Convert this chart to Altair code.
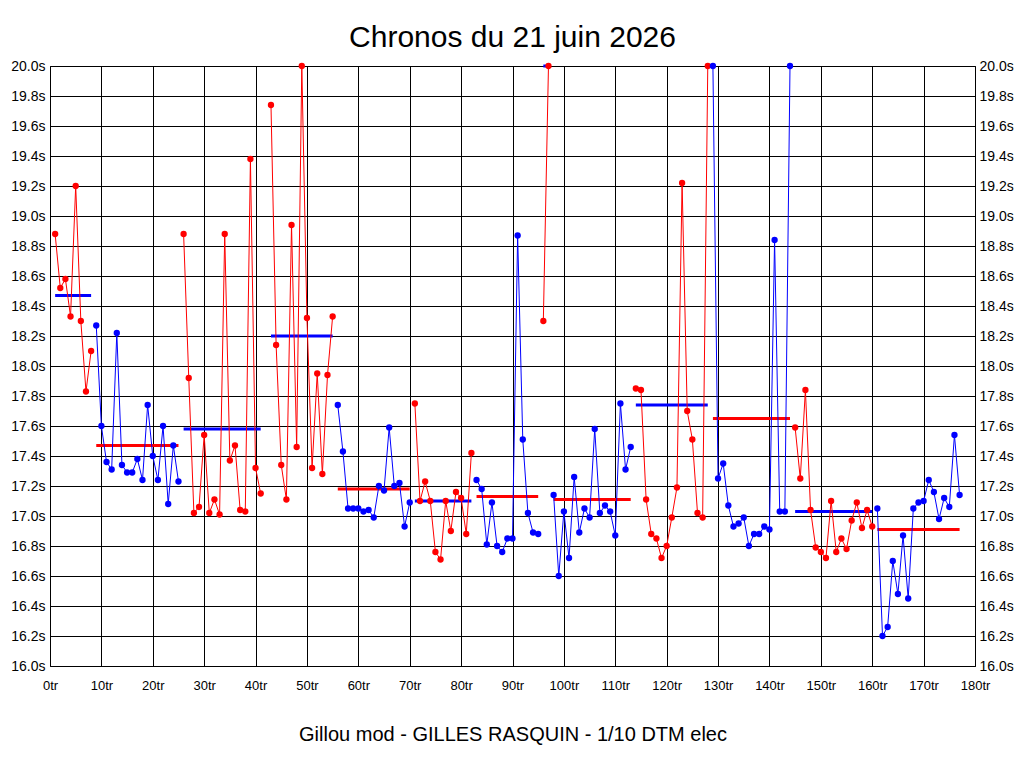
import altair as alt
import pandas as pd

# ---- data ----
stint_first_lap = [1, 9, 26, 43, 56, 71, 83, 96, 98, 114, 129, 145, 161]
stint_color = ["red", "blue", "red", "red", "blue", "red", "blue",
               "red", "blue", "red", "blue", "red", "blue"]
mean_color = ["blue", "red", "blue", "blue", "red", "blue", "red",
              "blue", "red", "blue", "red", "blue", "red"]
stint_mean = [18.47, 17.47, 17.58, 18.20, 17.18, 17.10, 17.13,
              20.00, 17.11, 17.74, 17.65, 17.03, 16.91]

t1 = [18.88, 18.52, 18.58, 18.33, 19.20, 18.30, 17.83, 18.10]
t2 = [18.27, 17.60, 17.36, 17.31, 18.22, 17.34, 17.29, 17.29, 17.38, 17.24,
      17.74, 17.40, 17.24, 17.60, 17.08, 17.47, 17.23]
t3 = [18.88, 17.92, 17.02, 17.06, 17.54, 17.02, 17.11, 17.01, 18.88, 17.37,
      17.47, 17.04, 17.03, 19.38, 17.32, 17.15]
t4 = [19.74, 18.14, 17.34, 17.11, 18.94, 17.46, 20.00, 18.32, 17.32, 17.95,
      17.28, 17.94, 18.33]
t5 = [17.74, 17.43, 17.05, 17.05, 17.05, 17.03, 17.04, 16.99, 17.20, 17.17,
      17.59, 17.20, 17.22, 16.93, 17.09]
t6 = [17.75, 17.10, 17.23, 17.10, 16.76, 16.71, 17.10, 16.90, 17.16, 17.12,
      16.88, 17.42]
t7 = [17.24, 17.18, 16.81, 17.09, 16.80, 16.76, 16.85, 16.85, 18.87, 17.51,
      17.02, 16.89, 16.88]
t8 = [18.30, 20.00]
t9 = [17.14, 16.60, 17.03, 16.72, 17.26, 16.89, 17.05, 16.99, 17.58, 17.02,
      17.07, 17.03, 16.87, 17.75, 17.31, 17.46]
t10 = [17.85, 17.84, 17.11, 16.88, 16.85, 16.72, 16.80, 16.99, 17.19, 19.22,
       17.70, 17.51, 17.02, 16.99, 20.00]
t11 = [20.00, 17.25, 17.35, 17.07, 16.93, 16.95, 16.99, 16.80, 16.88, 16.88,
       16.93, 16.91, 18.84, 17.03, 17.03, 20.00]
t12 = [17.59, 17.25, 17.84, 17.04, 16.79, 16.76, 16.72, 17.10, 16.76, 16.85,
       16.78, 16.97, 17.09, 16.92, 17.04, 16.93]
t13 = [17.05, 16.20, 16.26, 16.70, 16.48, 16.87, 16.45, 17.05, 17.09, 17.10,
       17.24, 17.16, 16.98, 17.12, 17.06, 17.54, 17.14]
stint_times = [t1, t2, t3, t4, t5, t6, t7, t8, t9, t10, t11, t12, t13]

x_ticks = [0, 10, 20, 30, 40, 50, 60, 70, 80, 90, 100, 110, 120, 130, 140,
           150, 160, 170, 180]
y_ticks = [16.0, 16.2, 16.4, 16.6, 16.8, 17.0, 17.2, 17.4, 17.6, 17.8, 18.0,
           18.2, 18.4, 18.6, 18.8, 19.0, 19.2, 19.4, 19.6, 19.8, 20.0]

title_text = "Chronos du 21 juin 2026"
footer_text = "Gillou mod - GILLES RASQUIN - 1/10 DTM elec"

# ---- tables ----
rows = []
mrows = []
for i, (first, times) in enumerate(zip(stint_first_lap, stint_times)):
    for j, v in enumerate(times):
        rows.append({"lap": first + j, "time": v, "stint": i, "color": stint_color[i]})
    mrows.append({"start": first, "end": first + len(times) - 1,
                  "mean": stint_mean[i], "color": mean_color[i]})
df = pd.DataFrame(rows)
mdf = pd.DataFrame(mrows)

FONT = "Liberation Sans"
xscale = alt.Scale(domain=[0, 180], nice=False, zero=False)
yscale = alt.Scale(domain=[16, 20], nice=False, zero=False)

x_axis = alt.Axis(values=x_ticks, labelExpr="datum.value + 'tr'", grid=True,
                  gridColor="black", gridOpacity=1, gridWidth=1, ticks=False,
                  tickSize=0, domain=False, labelFont=FONT, labelFontSize=13,
                  labelColor="black", labelPadding=23, labelBaseline="alphabetic",
                  labelFlush=False, labelOverlap=False,
                  title=footer_text, titleFont=FONT, titleFontSize=20,
                  titleFontWeight="normal", titleColor="black", titleY=74,
                  titleBaseline="alphabetic")
yl_axis = alt.Axis(values=y_ticks, labelExpr="format(datum.value, '.1f') + 's'",
                   grid=True, gridColor="black", gridOpacity=1, gridWidth=1,
                   ticks=False, tickSize=0, domain=False, labelFont=FONT,
                   labelFontSize=14, labelColor="black", labelPadding=5,
                   labelFlush=False, labelOverlap=False, title=None, orient="left")
yr_axis = alt.Axis(values=y_ticks, labelExpr="format(datum.value, '.1f') + 's'",
                   grid=False, ticks=False, tickSize=0, domain=False,
                   labelFont=FONT, labelFontSize=14, labelColor="black",
                   labelPadding=4, labelFlush=False, labelOverlap=False,
                   title=None, orient="right")

means = alt.Chart(mdf).mark_rule(strokeWidth=3).encode(
    x=alt.X("start:Q", scale=xscale, axis=x_axis),
    x2="end:Q",
    y=alt.Y("mean:Q", scale=yscale, axis=yl_axis),
    color=alt.Color("color:N", scale=None),
)
lines = alt.Chart(df).mark_line(strokeWidth=1).encode(
    x=alt.X("lap:Q", scale=xscale, axis=x_axis),
    y=alt.Y("time:Q", scale=yscale, axis=None),
    color=alt.Color("color:N", scale=None),
    detail="stint:N",
)
points = alt.Chart(df).mark_circle(size=40, opacity=1).encode(
    x=alt.X("lap:Q", scale=xscale, axis=x_axis),
    y=alt.Y("time:Q", scale=yscale, axis=yr_axis),
    color=alt.Color("color:N", scale=None),
)

chart = alt.layer(means, lines, points).resolve_axis(y="independent").properties(
    width=925, height=600,
    title=alt.TitleParams(title_text, font=FONT, fontSize=30, fontWeight="normal",
                          color="black", anchor="middle", offset=20,
                          baseline="alphabetic", dy=38),
    padding={"left": 42, "top": 58, "right": 41, "bottom": 90},
    autosize=alt.AutoSizeParams(type="none"),
    background="white",
).configure_view(stroke="black", strokeWidth=1)

chart.save("out.html", embed_options={"renderer": "svg", "actions": False})
